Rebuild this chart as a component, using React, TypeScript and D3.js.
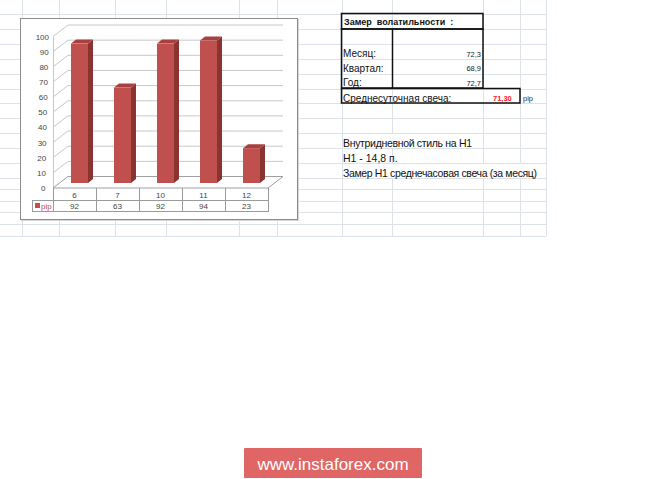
import * as d3 from "d3";
import React from "react";

const categories = ["6", "7", "10", "11", "12"];
const pipValues = [92, 63, 92, 94, 23];
const yTicks = [0, 10, 20, 30, 40, 50, 60, 70, 80, 90, 100];
const seriesName = "pip";

const summaryTitle = "Замер  волатильности  :";
const summaryLabels = ["Месяц:", "Квартал:", "Год:"];
const summaryValues = ["72,3", "68,9", "72,7"];
const dailyLabel = "Среднесуточная свеча:";
const dailyValue = "71,30";
const notes = [
  "Внутридневной стиль на Н1",
  "Н1 - 14,8 п.",
  "Замер Н1 среднечасовая свеча (за месяц)",
];

// spreadsheet grid
const sheetCols = [22, 59, 115, 166, 239, 277, 342, 392, 483, 520, 546];
const sheetRows = [14, 29, 44, 59, 74, 89, 103, 118, 133, 148, 163, 178, 189, 201, 212, 224, 236];

const W = 665,
  H = 479;
const DX = 15,
  DY = -11.5; // 3d depth of the plot
const BAR_DX = 5,
  BAR_DY = -4;
const FONT = "'Liberation Sans', Arial, sans-serif";

const App = () => {
  const x = d3.scaleBand().domain(categories).range([53, 268]);
  const y = d3.scaleLinear().domain([0, 100]).range([188, 36.5]);
  const sheetLine = "#dde1e8";
  const gridCol = "#c8c8c8";
  const tableCol = "#9a9a9a";
  const base = y(0) - 5;
  const barW = 17;

  return (
    <svg
      width={W}
      height={H}
      style={{ position: "absolute", left: 0, top: 0, background: "#fff" }}
      fontFamily={FONT}
    >
      {/* sheet grid */}
      {sheetRows.map((r) => (
        <line key={"r" + r} x1={0} x2={546} y1={r + 0.5} y2={r + 0.5} stroke={sheetLine} />
      ))}
      {sheetCols.map((c) => (
        <line key={"c" + c} x1={c + 0.5} x2={c + 0.5} y1={0} y2={236} stroke={sheetLine} />
      ))}

      {/* chart box */}
      <rect x={21} y={19} width={278} height={202} fill="#d8d8d8" />
      <rect x={20.5} y={18.5} width={277} height={201} fill="#fff" stroke="#8c8c8c" />

      {/* back wall + side wall gridlines */}
      {yTicks
        .filter((t) => t > 0)
        .map((t) => (
          <path
            key={"g" + t}
            d={`M53,${y(t)}L${53 + DX},${y(t) + DY}L${268 + DX},${y(t) + DY}`}
            fill="none"
            stroke={gridCol}
          />
        ))}
      <line x1={53.5} x2={53.5} y1={y(100)} y2={y(0)} stroke={gridCol} />
      {/* floor */}
      <path
        d={`M53,${y(0)}L268,${y(0)}L${268 + DX},${y(0) + DY}L${53 + DX},${y(0) + DY}Z`}
        fill="#fff"
        stroke="#a0a0a0"
      />

      {/* y labels */}
      {yTicks.map((t) => (
        <text
          key={"yl" + t}
          x={45.5 + t * 0.035}
          y={y(t) + 3}
          textAnchor="end"
          fontSize={8}
          fill="#444"
        >
          {t}
        </text>
      ))}

      {/* bars */}
      {categories.map((c, i) => {
        const bx = (x(c) as number) + 18;
        const top = y(pipValues[i]) - 5;
        return (
          <g key={"b" + c}>
            <path
              d={`M${bx + barW},${top}L${bx + barW + BAR_DX},${top + BAR_DY}L${bx + barW + BAR_DX},${base + BAR_DY}L${bx + barW},${base}Z`}
              fill="#8a3431"
            />
            <path
              d={`M${bx},${top}L${bx + BAR_DX},${top + BAR_DY}L${bx + barW + BAR_DX},${top + BAR_DY}L${bx + barW},${top}Z`}
              fill="#a8413e"
            />
            <rect x={bx} y={top} width={barW} height={base - top} fill="#c0504d" />
          </g>
        );
      })}

      {/* data table */}
      <g stroke={tableCol} fill="none">
        <line x1={32} x2={268} y1={200.5} y2={200.5} />
        <line x1={32} x2={268} y1={211.5} y2={211.5} />
        <line x1={32.5} x2={32.5} y1={200} y2={212} />
        {categories.map((c) => (
          <line key={"tc" + c} x1={(x(c) as number) + 0.5} x2={(x(c) as number) + 0.5} y1={188} y2={212} />
        ))}
        <line x1={268.5} x2={268.5} y1={188} y2={212} />
      </g>
      {categories.map((c, i) => (
        <g key={"tt" + c} fontSize={8} fill="#444" textAnchor="middle">
          <text x={(x(c) as number) + x.bandwidth() / 2} y={197.5}>
            {c}
          </text>
          <text x={(x(c) as number) + x.bandwidth() / 2} y={209}>
            {pipValues[i]}
          </text>
        </g>
      ))}
      <rect x={35} y={203} width={5} height={5} fill="#c0504d" />
      <text x={41} y={209} fontSize={8} fill="#c0504d">
        {seriesName}
      </text>

      {/* summary table */}
      <g stroke="#111" strokeWidth={1.5} fill="none">
        <rect x={341.5} y={13.5} width={141.5} height={15.5} />
        <rect x={341.5} y={29} width={141.5} height={59} />
        <line x1={392.5} x2={392.5} y1={29} y2={88} />
        <rect x={341.5} y={88.5} width={178.5} height={14.5} />
      </g>
      <text x={344} y={25} fontSize={9} fontWeight="bold" fill="#111" style={{ whiteSpace: "pre" }}>
        {summaryTitle}
      </text>
      {summaryLabels.map((l, i) => (
        <g key={"s" + l}>
          <text x={343} y={57} fontSize={10} fill="#111" transform={`translate(0,${i * 14.5})`}>
            {l}
          </text>
          <text x={481} y={56.5 + i * 14.5} fontSize={7.5} fill="#222" textAnchor="end">
            {summaryValues[i]}
          </text>
        </g>
      ))}
      <text x={343} y={102} fontSize={10} fill="#111">
        {dailyLabel}
      </text>
      <text x={493} y={100.5} fontSize={7.5} fontWeight="bold" fill="#ff2020">
        {dailyValue}
      </text>
      <text x={523} y={100.5} fontSize={7.5} fill="#333">
        {seriesName}
      </text>

      {/* notes, hiding the gridlines they overflow */}
      <rect x={343} y={134} width={131} height={14} fill="#fff" />
      <rect x={343} y={164} width={196} height={14} fill="#fff" />
      {notes.map((n, i) => (
        <text key={"n" + i} x={343} y={147 + i * 15} fontSize={10.5} fill="#111" textLength={[129, undefined, 194][i]}>
          {n}
        </text>
      ))}

      {/* watermark */}
      <rect x={244} y={448} width={178} height={30} rx={1} fill="#e06666" />
      <text x={333} y={469.5} fontSize={17} fill="#fff" textAnchor="middle">
        www.instaforex.com
      </text>
    </svg>
  );
};

export default App;
